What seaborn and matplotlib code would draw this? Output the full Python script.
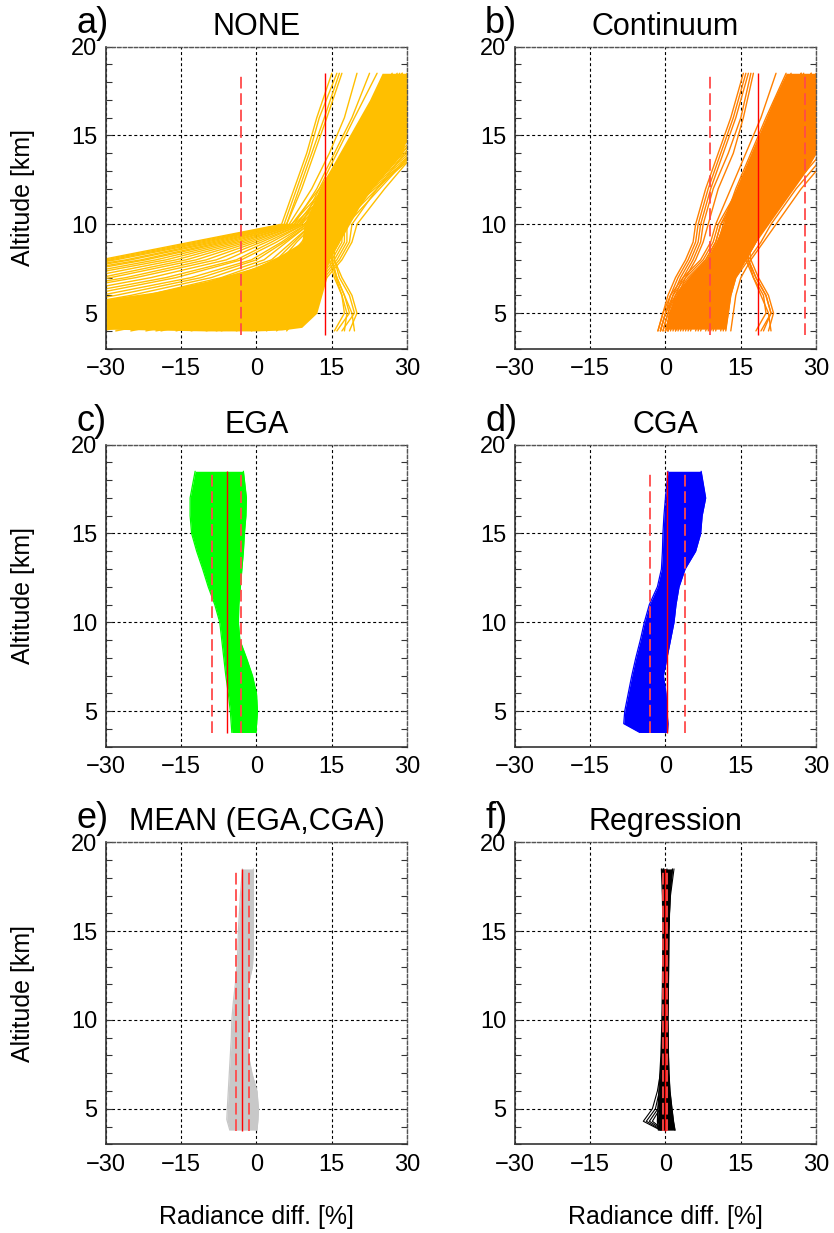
import numpy as np
import pandas as pd
import matplotlib
matplotlib.use("Agg")
import matplotlib.pyplot as plt
from matplotlib.ticker import MultipleLocator
import seaborn as sns

# ---------------- data ----------------
XTICKS = [-30, -15, 0, 15, 30]
YTICKS = [5, 10, 15, 20]
XLIM = [-30, 30]
YLIM = [3, 20]
RED_SPAN = [3.75, 18.5]

LETTERS = ["a)", "b)", "c)", "d)", "e)", "f)"]
TITLES = ["NONE", "Continuum", "EGA", "CGA", "MEAN (EGA,CGA)", "Regression"]
COLORS = ["#FFBF00", "#FF8000", "#00FF00", "#0000FF", "#C8C8C8", "#000000"]

# mean (solid red) and mean +/- std (dashed red) per panel
RED_MEAN = [13.7, 18.4, -5.85, 0.35, -2.8, -0.05]
RED_LOW = [-3.1, 8.9, -8.75, -3.0, -4.0, -0.5]
RED_HIGH = [30.5, 27.8, -3.0, 3.8, -1.55, 0.4]

# individual profiles for panels a) and b)
ALT_AB = [4, 5, 6, 7, 8, 9, 10, 12, 14, 16, 18.5]

NONE_CURVES = [
    [-140, -110, -80, -55, -31, -13, 5, 7.5, 10, 12, 15],
    [-138, -108, -79, -54, -30, -12, 5.5, 8, 10.5, 12.5, 16],
    [-135, -105, -77, -52, -29, -11, 6, 8.5, 11, 13.5, 16.5],
    [-132, -102, -75, -50, -28, -10, 6, 9, 11.5, 14, 17],
    [-130, -100, -73, -48, -26, -9, 6.5, 11, 14.5, 17.5, 20],
    [-127, -97, -71, -46, -25, -8, 7, 12.5, 17.5, 22.5, 28],
    [-124, -94, -68, -44, -23, -7, 7, 13.5, 20, 26, 33],
    [-121, -91, -65, -42, -22, -6, 7.5, 12, 15.5, 19, 22.5],
    [-118, -88, -62, -39, -20, -5, 7.5, 15, 22, 29, 37],
    [-115, -85, -59, -37, -18, -4, 8, 13.5, 18.5, 23.5, 29],
    [-112, -82, -56, -34, -16, -3, 8, 16, 23.5, 31, 40],
    [-109, -79, -53, -31, -14, -2, 8.5, 14, 19, 24, 30],
    [-106, -76, -50, -29, -12, -1, 8.5, 17, 25, 33, 43],
    [-103, -73, -47, -26, -10, 0, 9, 15, 21, 26.5, 33],
    [-100, -70, -44, -24, -8, 1, 9, 12.5, 16, 19.5, 24],
    [-95, -65, -40, -21, -6, 2, 9.5, 18, 26, 34, 45],
    [-90, -61, -37, -18, -4, 3, 9.5, 15.5, 21.5, 27.5, 35],
    [-86, -57, -34, -16, -3, 4, 10, 19, 27, 35, 46],
    [-82, -53, -31, -13, -1, 5, 10, 14, 18, 22, 27],
    [-78, -49, -28, -11, 0, 5.5, 10.5, 16.5, 22.5, 28.5, 36],
    [-74, -45, -25, -9, 1.5, 6, 10.5, 19.5, 28, 36.5, 48],
    [-70, -42, -22, -7, 3, 7, 11, 17, 23, 29, 37],
    [-66, -38, -19, -5, 4, 7.5, 11, 20, 28.5, 37, 48],
    [-62, -35, -16, -3, 5, 8, 11.5, 15.5, 19.5, 23.5, 28.5],
    [-58, -32, -13, -1.5, 6, 9, 11.5, 18, 24.5, 31, 39],
    [-54, -29, -11, 0, 7, 9.5, 12, 21, 29.5, 38, 49],
    [-50, -26, -9, 1.5, 7.5, 10, 12, 18.5, 25, 31.5, 40],
    [-46, -23, -7, 3, 8.5, 10.5, 12.5, 21.5, 30, 38.5, 50],
    [-42, -20, -5, 4.5, 9, 11, 12.5, 17, 21.5, 26, 31],
    [-38, -17, -3, 5.5, 9.5, 11.5, 13, 19.5, 26, 32.5, 41],
    [-34, -14, -1, 6.5, 10, 12, 13, 22, 30.5, 39, 50],
    [-31, -12, 0.5, 7, 10.5, 12.5, 13.5, 20, 26.5, 33, 42],
    [-28, -10, 2, 8, 11, 13, 13.5, 22.5, 31, 39.5, 51],
    [-25, -8, 3, 8.5, 11.5, 13.5, 14, 18.5, 23, 27.5, 33],
    [-22, -6, 4, 9, 12, 14, 14, 20.5, 27, 33.5, 42],
    [-19, -4, 5, 9.5, 12.5, 14.5, 14.5, 23, 31.5, 40, 51],
    [-16, -2, 6, 10, 13, 15, 15, 21, 27.5, 34, 43],
    [-13, 0, 7, 10.5, 13.5, 15.5, 15.5, 23.5, 32, 40.5, 52],
    [-10, 1.5, 7.5, 11, 14, 16, 16, 20.5, 25, 29.5, 35],
    [-7, 3, 8.5, 11.5, 14.5, 16.5, 16.5, 22, 28, 34, 42],
    [-4, 4.5, 9, 12, 15, 17, 17, 24, 31, 38, 48],
    [-1, 6, 10, 12.5, 15.5, 17.5, 17.5, 22.5, 28, 33.5, 41],
    [2, 7, 10.5, 13, 16, 18, 18, 24.5, 31, 37.5, 47],
    [4, 8, 11, 13.5, 16.5, 18.5, 19, 24, 29.5, 35, 42],
    [6, 9, 11.5, 14, 17, 19, 20, 25.5, 31.5, 37.5, 46],
    [-20, -3, 5.5, 9.5, 12, 14, 15, 18, 21.5, 25, 29],
    [-8, 2, 8, 11, 13.5, 15.5, 16.5, 19.5, 23, 26.5, 30.5],
    [17, 19.5, 18.5, 16.5, 15.5, 15.5, 16.5, 21, 26, 31, 37],
    [18.5, 20, 19, 17, 15.5, 15.5, 17, 22, 27.5, 33, 40],
    [16, 18.5, 17.5, 16, 15, 15, 16, 20.5, 25, 30, 36],
    [19.5, 19, 17.5, 16, 15, 15, 16.5, 23, 29, 35, 42],
    [15.5, 17.5, 17, 15.5, 14.5, 14.5, 15.5, 20, 24.5, 29, 35],
    [17.5, 18, 17, 15.8, 15, 15, 16, 21.5, 27, 32, 38],
]

CONT_CURVES = [
    [-1.5, -0.5, 0.5, 2, 4, 5.5, 6, 8, 10.5, 13, 15.5],
    [-1, 0, 1, 2.5, 4.5, 6, 6.5, 8.5, 11, 13.5, 16],
    [-0.5, 0.5, 1.5, 3, 5, 6.5, 7, 9, 11.5, 14, 16.5],
    [0, 1, 2, 3.5, 5.5, 7, 7.5, 9.5, 12.5, 15, 17],
    [0.5, 1.5, 2.5, 4, 6, 7.5, 8.5, 10.5, 13.5, 15.5, 17.5],
    [-1.5, -0.5, 1, 3.5, 7, 9, 10, 13, 16, 19, 22],
    [-1, 0, 1.5, 4, 7.5, 9.5, 10.5, 14.5, 19, 23.5, 29],
    [-0.5, 0.5, 2, 4.5, 8, 10, 11, 16, 21, 26, 33],
    [0, 1, 2.5, 5, 8.5, 10.5, 11.5, 14, 17, 20, 24],
    [0.5, 1.5, 3, 5.5, 9, 11, 12, 17, 22.5, 28, 35],
    [1, 2, 3.5, 6, 9.5, 11.5, 12.5, 15.5, 19, 22.5, 27],
    [1.5, 2.5, 4, 6.5, 10, 12, 13, 18, 24, 30, 38],
    [2, 3, 4.5, 7, 10.5, 12.5, 13.5, 17, 21, 25, 30],
    [2.5, 3.5, 5, 7.5, 11, 13, 14, 19, 25, 31, 40],
    [3, 4, 5.5, 8, 11.5, 13.5, 14.5, 18, 22, 26.5, 32],
    [3.5, 4.5, 6, 8.5, 12, 14, 15, 20, 26, 32, 41],
    [4, 5, 6.5, 9, 12.5, 14.5, 15.5, 19, 23, 27.5, 33],
    [5, 6, 7.5, 10, 13, 15, 16, 21, 27, 33, 42],
    [6, 7, 8.5, 10.5, 13.5, 15.5, 16.5, 20, 24, 28.5, 34],
    [7, 8, 9.5, 11, 14, 16, 17, 22, 28, 34, 43],
    [8, 9, 10, 11.5, 14.5, 16.5, 17.5, 21, 25, 29.5, 35],
    [9, 10, 11, 12, 15, 17, 18, 23, 29, 35, 44],
    [10, 10.5, 11.5, 12.5, 15.5, 17.5, 19, 24, 30, 36, 45],
    [11, 11.5, 12, 13, 16, 18, 20, 25, 31, 37, 46],
    [12, 12.5, 13, 14, 16.5, 19, 21, 26, 32, 38, 47],
    [13, 13.5, 14, 15, 17, 19.5, 22, 27, 33, 39, 48],
    [-1, 0, 2, 5, 8, 10, 11, 14.5, 18, 21.5, 25],
    [0.5, 2, 4, 7, 10, 12, 13, 16.5, 20, 23.5, 27.5],
    [4.5, 6, 8, 10, 12.5, 14, 15, 18, 21, 24, 27],
    [8.5, 9.5, 10.5, 12, 14.5, 16, 17, 20, 23, 26, 29],
    [11.5, 12, 12.5, 13.5, 16, 18, 19.5, 22.5, 25.5, 28.5, 31.5],
    [2, 3.5, 5.5, 8, 11, 13, 14, 18.5, 23.5, 28.5, 35],
    [6.5, 7.5, 9, 11, 13.5, 15, 16, 21.5, 27.5, 33.5, 41],
    [0, 1, 3, 6, 9.5, 11.5, 12.5, 17.5, 23, 28.5, 36],
    [9.5, 10, 11, 12.5, 15, 17, 18.5, 23.5, 29, 34.5, 42],
    [19, 21, 20, 18, 16.5, 16, 17, 22, 27, 32, 38],
    [20.5, 21.5, 20.5, 18.5, 17, 16.5, 17.5, 23, 28, 33.5, 40],
    [18, 20, 19.5, 17.5, 16, 15.5, 16.5, 21, 26, 31, 37],
    [21, 20.5, 19, 17.5, 16.5, 16, 17, 22.5, 28.5, 34.5, 41],
    [19.5, 21, 20, 18, 16.5, 16, 17.5, 22, 26.5, 31, 36],
]

# dense cores of the bundles in a) and b)
NONE_LOW_X = [-30, -20, -10, 0, 5, 9, 12, 14]
NONE_LOW_BOT = [4.1, 4.05, 4.0, 4.0, 4.05, 4.2, 5.0, 7.0]
NONE_LOW_TOP = [5.8, 6.2, 6.8, 7.6, 8.3, 9.0, 9.3, 8.0]
NONE_CORE_ALT = [7, 8, 9, 10, 11, 12, 13, 14, 15, 16, 17, 18.5]
NONE_CORE_LEFT = [11.5, 10, 9, 9.5, 11, 12.5, 14.5, 16.5, 18.5, 20.5, 22.5, 25]
NONE_CORE_RIGHT = [13.5, 14.5, 16.5, 18.5, 20.5, 23, 26, 29, 30, 30, 30, 30]

CONT_CORE_ALT = [4.1, 5, 6, 7, 8, 9, 10, 11, 12, 13, 14, 15, 16, 17, 18.5]
CONT_CORE_LEFT = [0, 0.5, 2, 4.5, 8, 10, 11.5, 12.5, 14, 15.5, 17, 18.5, 20, 21.5, 24]
CONT_CORE_RIGHT = [12, 12.5, 13, 14, 16, 18, 20.5, 23, 25.5, 28, 30, 30, 30, 30, 30]

# envelopes of the dense bundles in panels c) - f)
EGA_ALT = [3.8, 5, 6, 7, 8, 9, 10, 11, 12, 13, 14, 15, 16, 17, 18.5]
EGA_LEFT = [-4.9, -5.2, -5.6, -6.1, -6.5, -6.9, -7.3, -8.3, -9.6, -10.7, -11.9, -12.9, -13.2, -13.2, -12.2]
EGA_RIGHT = [-0.1, 0.2, 0.0, -0.8, -2.0, -3.3, -3.6, -3.5, -3.2, -2.9, -2.6, -2.4, -2.1, -2.0, -2.6]

CGA_ALT = [3.8, 4.3, 5, 6, 7, 8, 9, 10, 11, 12, 13, 14, 15, 16, 17, 18.5]
CGA_LEFT = [-5.1, -8.3, -8.1, -7.4, -6.7, -5.9, -5.0, -4.2, -3.2, -1.6, -0.8, -0.6, -0.5, -0.3, 0.0, 0.5]
CGA_RIGHT = [0.4, 0.5, 0.3, 0.1, -0.4, 0.3, 1.0, 1.7, 2.1, 2.7, 3.9, 6.0, 7.0, 7.3, 8.0, 7.1]

MEAN_ALT = [3.8, 4.4, 5, 6, 7, 8, 9, 10, 11, 12, 13, 14, 15, 16, 17, 18.5]
MEAN_LEFT = [-5.3, -5.9, -5.8, -5.6, -5.4, -5.2, -5.0, -4.9, -4.6, -4.2, -3.9, -3.7, -3.6, -3.4, -3.2, -2.8]
MEAN_RIGHT = [0.1, 0.3, 0.4, 0.1, -0.9, -1.6, -1.6, -1.6, -1.6, -1.6, -0.8, -0.6, -0.6, -0.6, -0.6, -0.6]

REG_ALT = [3.8, 4.3, 5, 6, 7, 8, 10, 12, 15, 17, 18.5]
REG_LEFT = [-1.4, -1.6, -1.5, -1.3, -1.1, -0.9, -0.7, -0.6, -0.5, -0.6, -0.8]
REG_RIGHT = [1.9, 1.6, 1.3, 0.9, 0.7, 0.6, 0.5, 0.6, 0.7, 0.9, 1.4]
REG_FAN = [
    [-1.0, -4.4, -2.6, -1.6, -1.0, -0.8, -0.6, -0.5, -0.4, -0.4, -0.5],
    [-0.8, -3.8, -2.0, -1.2, -0.8, -0.6, -0.5, -0.4, -0.3, -0.3, -0.4],
    [-0.5, -3.2, -1.5, -0.9, -0.6, -0.5, -0.4, -0.3, -0.2, -0.2, -0.3],
    [-0.3, -2.6, -1.1, -0.7, -0.5, -0.4, -0.3, -0.2, -0.1, 0.0, 0.3],
    [0.2, 0.6, 0.8, 0.8, 0.6, 0.5, 0.4, 0.5, 0.6, 1.0, 1.7],
]

# ---------------- style ----------------
sns.set_style("white")
plt.rcParams["font.family"] = ["Liberation Sans", "DejaVu Sans"]
plt.rcParams["axes.unicode_minus"] = True
for key in ["text.color", "axes.labelcolor", "xtick.color", "ytick.color"]:
    plt.rcParams[key] = "black"


def curves_df(alt, curves):
    rows = []
    for i, c in enumerate(curves):
        for h, v in zip(alt, c):
            rows.append((i, h, v))
    return pd.DataFrame(rows, columns=["curve", "alt", "diff"])


def draw_curves(ax, alt, curves, color, lw):
    df = curves_df(alt, curves)
    sns.lineplot(data=df, x="diff", y="alt", units="curve", estimator=None,
                 sort=False, orient="y", color=color, linewidth=lw,
                 ax=ax, legend=False)


def draw_band(ax, alt, left, right, color):
    ax.fill_betweenx(alt, left, right, color=color, linewidth=0, zorder=2)
    draw_curves(ax, alt, [left, right], color, 0.9)


fig = plt.figure(figsize=(8.34, 12.33), dpi=100)
W, H = 0.3616, 0.2450
LEFTS = [0.1267, 0.6171]
BOTTOMS = [0.7172, 0.3944, 0.0719]

axes = []
for r in range(3):
    for c in range(2):
        axes.append(fig.add_axes([LEFTS[c], BOTTOMS[r], W, H]))

for i, ax in enumerate(axes):
    color = COLORS[i]
    if i == 0:
        ax.fill_between(NONE_LOW_X, NONE_LOW_BOT, NONE_LOW_TOP, color=color,
                        linewidth=0, zorder=2)
        ax.fill_betweenx(NONE_CORE_ALT, NONE_CORE_LEFT, NONE_CORE_RIGHT,
                         color=color, linewidth=0, zorder=2)
        draw_curves(ax, ALT_AB, NONE_CURVES, color, 1.0)
    elif i == 1:
        ax.fill_betweenx(CONT_CORE_ALT, CONT_CORE_LEFT, CONT_CORE_RIGHT,
                         color=color, linewidth=0, zorder=2)
        draw_curves(ax, ALT_AB, CONT_CURVES, color, 1.0)
    elif i == 2:
        draw_band(ax, EGA_ALT, EGA_LEFT, EGA_RIGHT, color)
    elif i == 3:
        draw_band(ax, CGA_ALT, CGA_LEFT, CGA_RIGHT, color)
    elif i == 4:
        draw_band(ax, MEAN_ALT, MEAN_LEFT, MEAN_RIGHT, color)
    else:
        draw_band(ax, REG_ALT, REG_LEFT, REG_RIGHT, color)
        draw_curves(ax, REG_ALT, REG_FAN, color, 0.8)

    # red mean / std lines
    ax.vlines([RED_MEAN[i]], RED_SPAN[0], RED_SPAN[1], colors="#FF0000",
              linewidth=1.0, zorder=5)
    ax.vlines([RED_LOW[i], RED_HIGH[i]], RED_SPAN[0], RED_SPAN[1],
              colors="#FF4A4A", linewidth=1.3, linestyles=(0, (6.5, 2.6)),
              zorder=5)

    ax.set_xlim(*XLIM)
    ax.set_ylim(*YLIM)
    ax.set_xticks(XTICKS)
    ax.set_yticks(YTICKS)
    ax.yaxis.set_minor_locator(MultipleLocator(1))
    ax.set_axisbelow(True)
    ax.grid(True, which="major", color="black", linestyle=(0, (2.7, 2.3)),
            linewidth=0.8)
    ax.tick_params(axis="x", length=0, labelsize=17, pad=7)
    ax.tick_params(axis="y", which="both", direction="in", left=True,
                   right=True, length=4, width=0.8, color="#333333",
                   labelsize=17, pad=6)
    for s in ["left", "bottom"]:
        ax.spines[s].set_color("#333333")
        ax.spines[s].set_linewidth(1.2)
    for s in ["top", "right"]:
        ax.spines[s].set_color("#555555")
        ax.spines[s].set_linewidth(1.0)
        ax.spines[s].set_linestyle((0, (2.5, 1.5)))

    ax.set_title(TITLES[i], fontsize=22, pad=8.5)
    ax.text(-0.098, 1.046, LETTERS[i], transform=ax.transAxes,
            fontsize=26, ha="left", va="baseline")

    if i % 2 == 0:
        ax.set_ylabel("Altitude [km]", fontsize=18)
        ax.yaxis.set_label_coords(-0.235, 0.5)
    else:
        ax.set_ylabel("")
    if i >= 4:
        ax.set_xlabel("Radiance diff. [%]", fontsize=18)
        ax.xaxis.set_label_coords(0.5, -0.2)
    else:
        ax.set_xlabel("")

fig.savefig("out.png", dpi=100, facecolor="white")
